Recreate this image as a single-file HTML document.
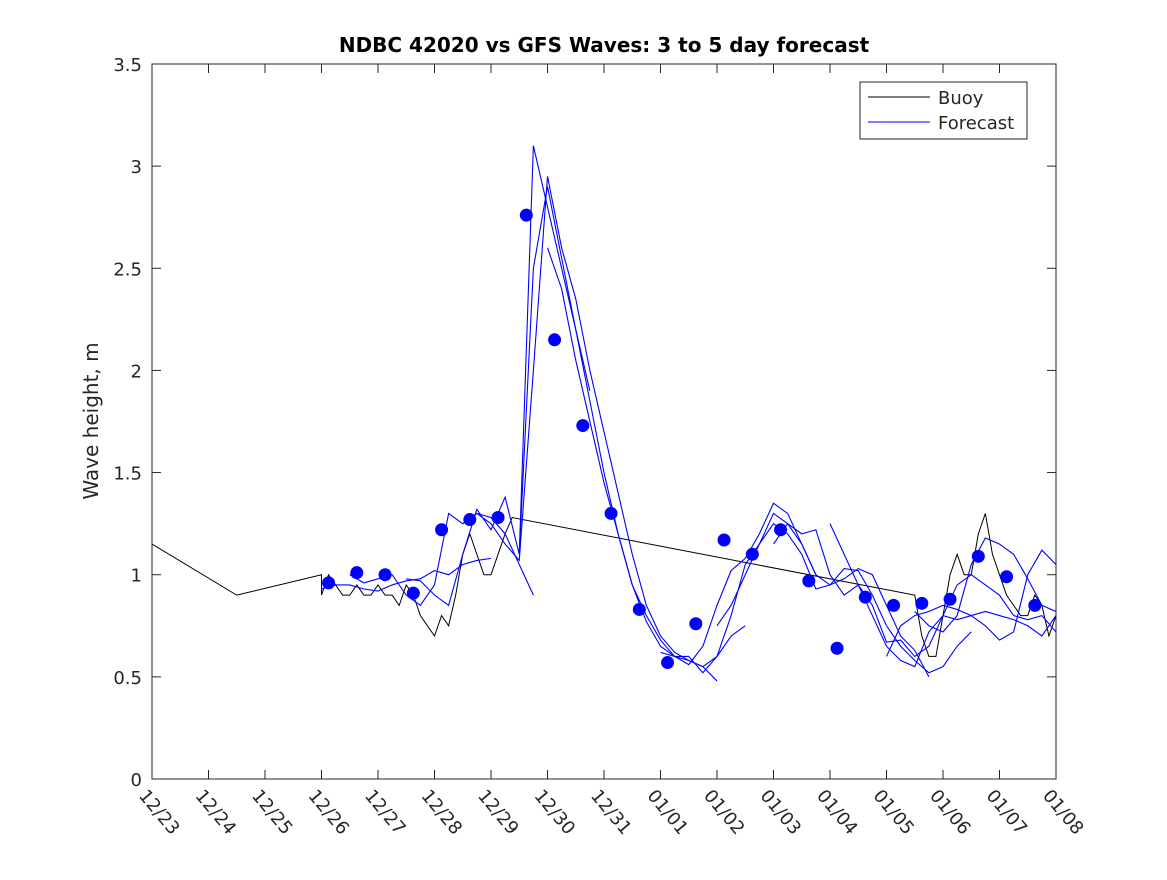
<!DOCTYPE html>
<html><head><meta charset="utf-8"><style>
body{margin:0;background:#fff}
svg text{font-family:"DejaVu Sans","Liberation Sans",sans-serif;fill:#262626}
</style></head><body>
<svg id="chart" width="1167" height="875" xmlns="http://www.w3.org/2000/svg">
<defs><clipPath id="pc"><rect x="152" y="64" width="904" height="715"/></clipPath></defs>
<rect x="152" y="64" width="904" height="715" fill="#fff" stroke="#262626" stroke-width="1"/>
<text x="604" y="52" text-anchor="middle" font-size="20" font-weight="bold" style="fill:#000">NDBC 42020 vs GFS Waves: 3 to 5 day forecast</text>
<text transform="translate(98,421) rotate(-90)" text-anchor="middle" font-size="20">Wave height, m</text>
<g id="axes"></g>
<g id="marks" clip-path="url(#pc)"></g>
<g>
<rect x="860" y="82" width="167" height="57" fill="#fff" stroke="#262626"/>
<line x1="868" y1="97" x2="930" y2="97" stroke="#000"/>
<text x="938" y="104" font-size="18">Buoy</text>
<line x1="868" y1="122" x2="930" y2="122" stroke="#00f"/>
<text x="938" y="129" font-size="18">Forecast</text>
</g>
</svg>
<script>
const xTickLabels=["12/23","12/24","12/25","12/26","12/27","12/28","12/29","12/30","12/31","01/01","01/02","01/03","01/04","01/05","01/06","01/07","01/08"];
const yTicks=[0,0.5,1,1.5,2,2.5,3,3.5];
const buoyDays=[0,1.5,3.0];
const buoyVals=[1.15,0.9,1.0];
const buoyNoisy1=[0.9,1.0,0.95,0.9,0.9,0.95,0.9,0.9,0.95,0.9,0.9,0.85,0.95,0.9,0.8,0.75,0.7,0.8,0.75,0.9,1.1,1.2,1.1,1.0,1.0,1.1,1.2,1.28];
const buoyNoisy1Start=3.0;
const buoyNoisy2=[0.9,0.7,0.6,0.6,0.8,1.0,1.1,1.0,1.0,1.2,1.3,1.1,1.0,0.9,0.85,0.8,0.8,0.9,0.85,0.7,0.8,0.9,1.0];
const buoyNoisy2Start=13.5;
const dotStart=3.125;
const dotVals=[0.96,1.01,1.0,0.91,1.22,1.27,1.28,2.76,2.15,1.73,1.30,0.83,0.57,0.76,1.17,1.10,1.22,0.97,0.64,0.89,0.85,0.86,0.88,1.09,0.99,0.85];
const runStarts=[3.0,3.5,4.5,5.5,6.5,7.0,9.0,10.0,11.0,12.0,13.0,13.5];
const run1=[.93,.95,.95,.93,.92,.95,.97,.98,1.02,1.0,1.05,1.07,1.08];
const run2=[1.0,.96,.98,1.0,.9,.85,.95,1.3,1.25,1.3,1.28,1.2,1.05,.9];
const run3=[.98,.97,.9,.85,1.1,1.32,1.22,1.38,1.1,3.1,2.8,2.5,2.2,1.9];
const run4=[1.25,1.3,1.25,1.15,1.07,2.0,2.95,2.6,2.35,2.0,1.7,1.4,1.1,.85,.7,.62,.58,.55,.48];
const run5=[1.1,2.5,2.9,2.55,2.2,1.85,1.5,1.2,.95,.77,.65,.6,.58,.55,.6,.7,.75];
const run6=[2.6,2.4,2.05,1.75,1.45,1.2,.95,.8,.68,.6,.6,.52,.6,.8,1.05,1.15,1.3,1.25,1.15,1.0];
const run7=[.62,.6,.56,.65,.85,1.02,1.08,1.2,1.35,1.3,1.15,1.0,.95,.98,1.03,1.0,.85,.7,.63,.5];
const run8=[.75,.85,1.0,1.15,1.25,1.2,1.1,.93,.95,1.03,1.02,.9,.75,.65,.58,.52,.55,.65,.72];
const run9=[1.15,1.25,1.2,1.22,1.0,.9,.95,.85,.67,.68,.6,.65,.8,.95,1.0,.95,.9,.8,.78,.8,.72,.8];
const run10=[1.25,1.1,.95,.8,.65,.58,.55,.72,.8,.78,.8,.82,.8,.78,.75,.7,.8,1.1,1.2,1.05,.9,.82,.85,.9,.98,1.03];
const run11=[.6,.75,.8,.82,.85,.83,.8,.75,.68,.72,1.0,1.12,1.05,.95,.9,.85,.8,.85,.95,1.05,1.15];
const run12=[.82,.75,.72,.8,1.05,1.18,1.15,1.1,.98,.85,.82,.85,.95,.92];
const runs=[run1,run2,run3,run4,run5,run6,run7,run8,run9,run10,run11,run12];

const X=d=>152+d*(904/16);
const Y=v=>779-v*(715/3.5);
const NS="http://www.w3.org/2000/svg";
const axes=document.getElementById('axes'),marks=document.getElementById('marks');
function mk(t,a,p){const e=document.createElementNS(NS,t);for(const k in a)e.setAttribute(k,a[k]);p.appendChild(e);return e;}
yTicks.forEach(v=>{
  mk('line',{x1:152,x2:161,y1:Y(v),y2:Y(v),stroke:'#262626'},axes);
  mk('line',{x1:1047,x2:1056,y1:Y(v),y2:Y(v),stroke:'#262626'},axes);
  const t=mk('text',{x:142,y:Y(v)+7,'text-anchor':'end','font-size':18},axes);
  t.textContent=String(v);
  
  
});
xTickLabels.forEach((s,i)=>{
  const x=X(i);
  mk('line',{x1:x,x2:x,y1:779,y2:770,stroke:'#262626'},axes);
  mk('line',{x1:x,x2:x,y1:64,y2:73,stroke:'#262626'},axes);
  const t=mk('text',{transform:`translate(${x-14},${796}) rotate(50)`,'font-size':18},axes);
  t.textContent=s;
  
  
});
let bp=buoyDays.map((d,i)=>[X(d),Y(buoyVals[i])]);
buoyNoisy1.forEach((v,i)=>bp.push([X(buoyNoisy1Start+i*0.125),Y(v)]));
buoyNoisy2.forEach((v,i)=>bp.push([X(buoyNoisy2Start+i*0.125),Y(v)]));
let bl=mk('polyline',{points:bp.map(p=>p.join(',')).join(' '),fill:'none',stroke:'#000','stroke-width':1},marks);


runs.forEach((r,k)=>{
  const pts=r.map((v,i)=>X(runStarts[k]+i*0.25)+','+Y(v)).join(' ');
  const l=mk('polyline',{points:pts,fill:'none',stroke:'#00f','stroke-width':1.1},marks);
  
  
});
dotVals.forEach((v,i)=>{
  const c=mk('circle',{cx:X(dotStart+i*0.5),cy:Y(v),r:6.5,fill:'#00f'},marks);
  
  
});
</script>
</body></html>
